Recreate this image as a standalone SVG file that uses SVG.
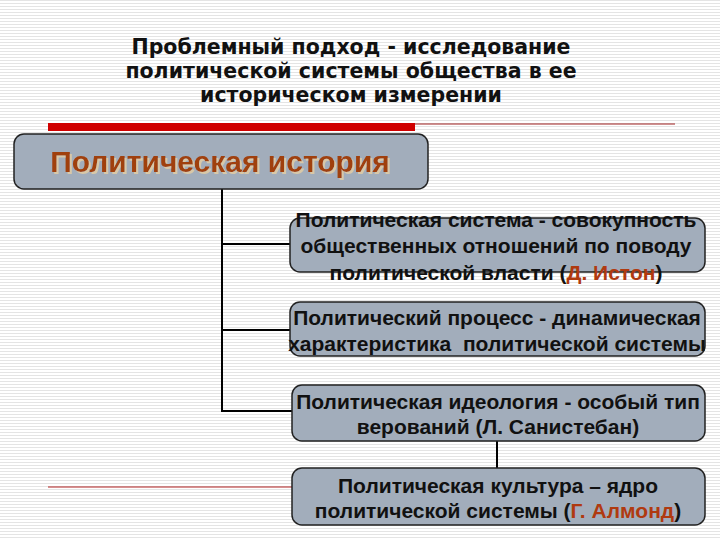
<svg xmlns="http://www.w3.org/2000/svg" width="720" height="540" viewBox="0 0 720 540">
<defs>
<pattern id="stripes" width="4" height="3" patternUnits="userSpaceOnUse">
<rect width="4" height="3" fill="#ffffff"/>
<rect width="4" height="1" fill="#e4e4e4"/>
</pattern>
<filter id="sh" x="-5%" y="-5%" width="110%" height="120%">
<feOffset dx="1.5" dy="1.5" in="SourceAlpha" result="o"/>
<feFlood flood-color="#d8c8a8"/>
<feComposite in2="o" operator="in" result="s"/>
<feMerge><feMergeNode in="s"/><feMergeNode in="SourceGraphic"/></feMerge>
</filter>
</defs>
<style>
.title{font-family:"DejaVu Sans",Verdana,sans-serif;font-weight:bold;font-size:20.5px;fill:#111;text-anchor:middle}
.box{fill:#a2adbb;stroke:#222;stroke-width:1.5}
.t{font-family:"Liberation Sans",Arial,sans-serif;font-weight:bold;font-size:21px;fill:#111;text-anchor:middle}
.red{fill:#b03a10}
.con{stroke:#000;stroke-width:2;fill:none}
</style>
<rect width="720" height="540" fill="url(#stripes)"/>
<g id="title">
<text class="title" x="351" y="54">Проблемный подход - исследование</text>
<text class="title" x="351" y="78">политической системы общества в ее</text>
<text class="title" x="351" y="102">историческом измерении</text>
</g>
<g id="decor">
<rect x="48" y="123" width="367" height="8" fill="#d00000"/>
<line x1="415" y1="124" x2="675" y2="124" stroke="#a02020" stroke-width="1"/>
<line x1="48" y1="487" x2="292" y2="487" stroke="#b02020" stroke-width="1"/>
</g>
<g id="connectors">
<path class="con" d="M222 189 V411 H292 M222 244 H290 M222 330 H290 M497 441 V468"/>
</g>
<g id="n0">
<rect class="box" x="14" y="134" width="414" height="55" rx="10"/>
<text x="220" y="172" font-family="Liberation Sans,Arial,sans-serif" font-weight="bold" font-size="30" fill="#a0400f" text-anchor="middle" filter="url(#sh)">Политическая история</text>
</g>
<g id="n1">
<rect class="box" x="290" y="218" width="415" height="54" rx="10"/>
<text class="t" x="496" y="227">Политическая система - совокупность</text>
<text class="t" x="496" y="253">общественных отношений по поводу</text>
<text class="t" x="496" y="280">политической власти (<tspan class="red">Д. Истон</tspan>)</text>
</g>
<g id="n2">
<rect class="box" x="290" y="302" width="415" height="54" rx="10"/>
<text class="t" x="497" y="325">Политический процесс - динамическая</text>
<text class="t" x="497" y="351" xml:space="preserve">характеристика  политической системы</text>
</g>
<g id="n3">
<rect class="box" x="292" y="385" width="413" height="56" rx="10"/>
<text class="t" x="498" y="409">Политическая идеология - особый тип</text>
<text class="t" x="498" y="434">верований (Л. Санистебан)</text>
</g>
<g id="n4">
<rect class="box" x="292" y="468" width="413" height="57" rx="10"/>
<text class="t" x="498" y="493">Политическая культура – ядро</text>
<text class="t" x="498" y="518">политической системы (<tspan class="red">Г. Алмонд</tspan>)</text>
</g>
</svg>
